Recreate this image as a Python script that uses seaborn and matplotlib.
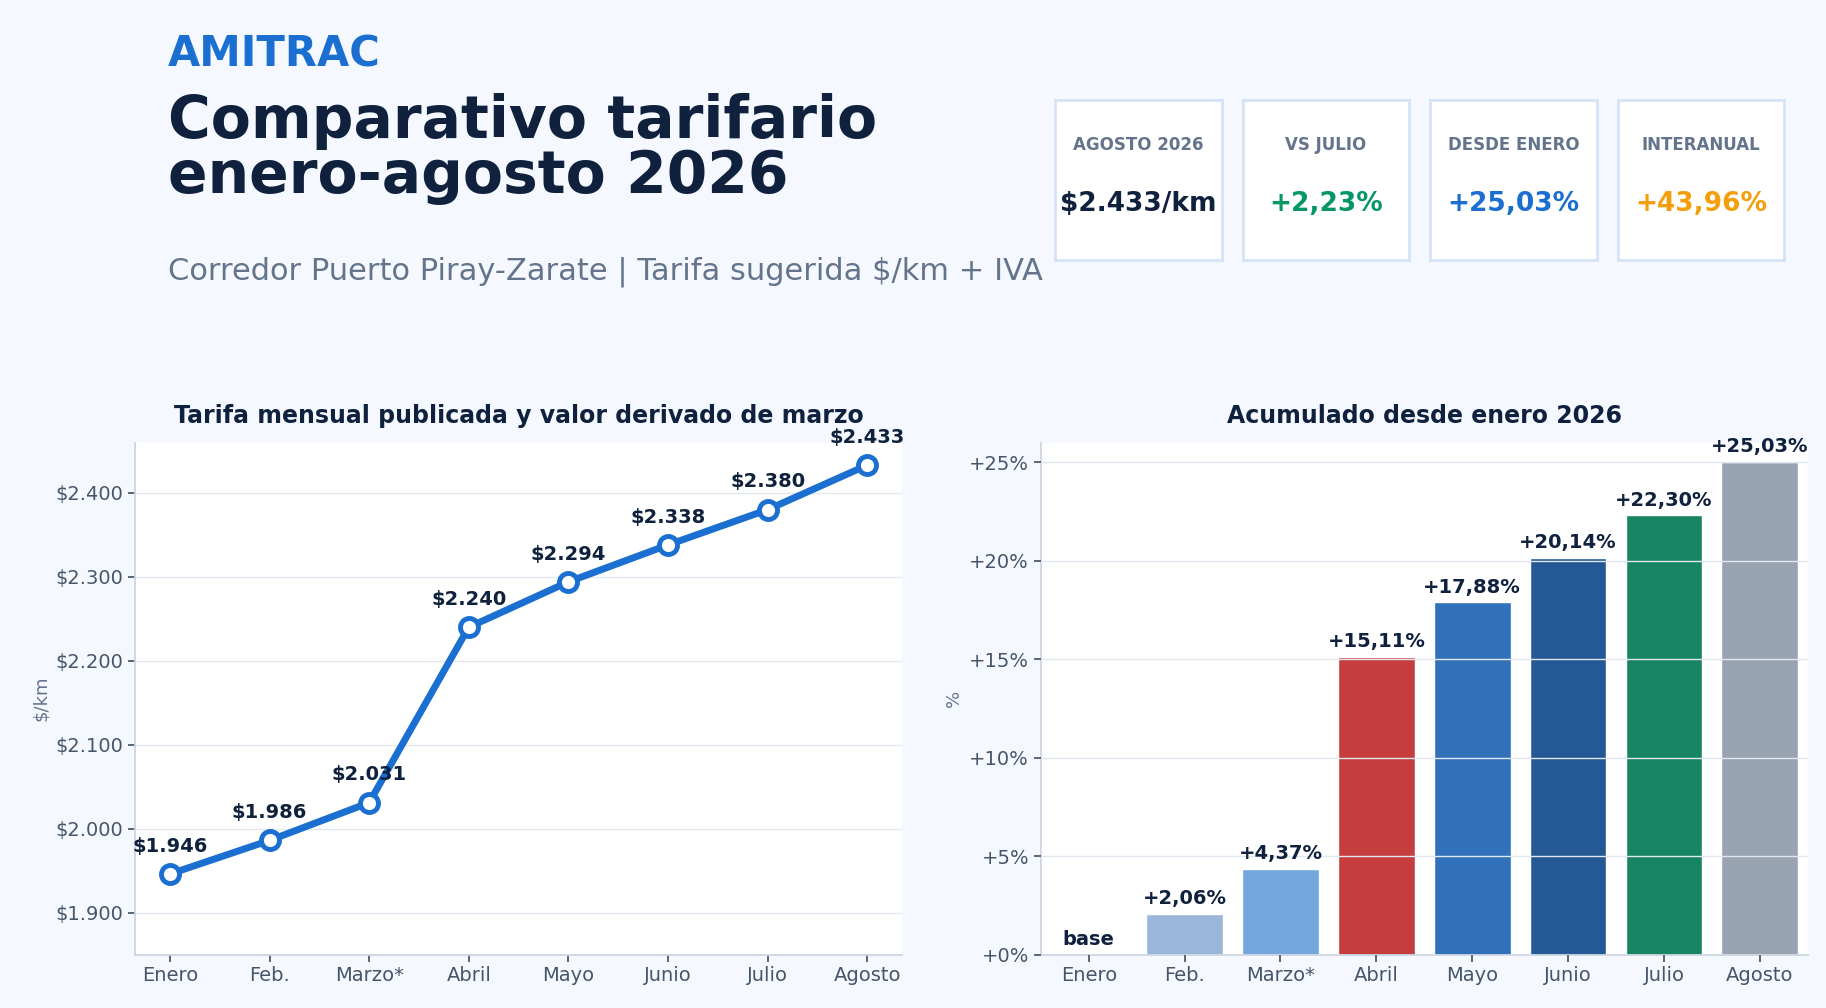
import seaborn as sns
import matplotlib.pyplot as plt
import pandas as pd
import numpy as np


meses = ["Enero", "Feb.", "Marzo*", "Abril", "Mayo", "Junio", "Julio", "Agosto"]
tarifas = [1946, 1986, 2031, 2240, 2294, 2338, 2380, 2433]
acumulado = [0.0, 2.06, 4.37, 15.11, 17.88, 20.14, 22.30, 25.03]
colores = ["#dbe7f7", "#8fb5e6", "#63a7ee", "#dc2626", "#1a6fd1", "#1158a8", "#059669", "#94a3b8"]

df = pd.DataFrame({"mes": meses, "tarifa": tarifas, "acum": acumulado})

sns.set_theme(style="whitegrid")
plt.rcParams['font.family'] = ['DejaVu Sans']
plt.rcParams['figure.facecolor'] = '#f5f9ff'

fig = plt.figure(figsize=(18.26, 10.08), dpi=100)

# encabezado
fig.text(0.092, 0.946, "AMITRAC", fontsize=30, fontweight="bold", color="#1a6fd1", va="center")
fig.text(0.092, 0.852, "Comparativo tarifario\nenero-agosto 2026", fontsize=42, fontweight="bold",
         color="#0f213d", va="center", linespacing=0.95)
fig.text(0.092, 0.73, "Corredor Puerto Piray-Zarate | Tarifa sugerida $/km + IVA", fontsize=22,
         color="#64748b", va="center")

# tarjetas
tarjetas = [("AGOSTO 2026", "$2.433/km", "#0f213d"), ("VS JULIO", "+2,23%", "#059669"),
            ("DESDE ENERO", "+25,03%", "#1a6fd1"), ("INTERANUAL", "+43,96%", "#f59e0b")]
for i, (tit, val, col) in enumerate(tarjetas):
    x0 = 0.578 + i * 0.1027
    ax_c = fig.add_axes([x0, 0.742, 0.091, 0.159])
    ax_c.set_xticks([]); ax_c.set_yticks([])
    ax_c.set_facecolor("white")
    for s in ax_c.spines.values():
        s.set_color("#d4e3f5"); s.set_linewidth(2)
    ax_c.text(0.5, 0.72, tit, ha="center", va="center", fontsize=12, fontweight="bold", color="#64748b",
              transform=ax_c.transAxes)
    ax_c.text(0.5, 0.35, val, ha="center", va="center", fontsize=19, fontweight="bold", color=col,
              transform=ax_c.transAxes)

# tarifa mensual
ax1 = fig.add_axes([0.074, 0.053, 0.42, 0.508])
ax1.set_facecolor("white")
sns.lineplot(data=df, x="mes", y="tarifa", sort=False, ax=ax1, color="#1a6fd1", linewidth=5,
             marker="o", markersize=13, markerfacecolor="white", markeredgecolor="#1a6fd1", markeredgewidth=3.5)
for i, v in enumerate(tarifas):
    ax1.annotate("$" + f"{v:,}".replace(",", "."), (i, v), xytext=(0, 16), textcoords="offset points",
                 ha="center", fontsize=14, fontweight="bold", color="#0f213d")
ax1.set_ylim(1850, 2460)
ax1.set_yticks([1900, 2000, 2100, 2200, 2300, 2400])
ax1.set_yticklabels(["$" + f"{v:,}".replace(",", ".") for v in [1900, 2000, 2100, 2200, 2300, 2400]])
ax1.set_title("Tarifa mensual publicada y valor derivado de marzo", fontsize=17, fontweight="bold",
              color="#0f213d", pad=14)
ax1.set_xlabel("")
ax1.set_ylabel("$/km", fontsize=13, color="#64748b")
ax1.grid(axis="x", visible=False)
ax1.grid(axis="y", color="#e2e8f0")

# acumulado
ax2 = fig.add_axes([0.570, 0.053, 0.42, 0.508])
ax2.set_facecolor("white")
sns.barplot(data=df, x="mes", y="acum", hue="mes", palette=colores, legend=False, ax=ax2, width=0.8)
for i, v in enumerate(acumulado):
    etiqueta = "base" if v == 0 else "+" + f"{v:.2f}".replace(".", ",") + "%"
    ax2.annotate(etiqueta, (i, v), xytext=(0, 7), textcoords="offset points", ha="center",
                 fontsize=14, fontweight="bold", color="#0f213d")
ax2.set_ylim(0, 26)
ax2.set_yticks([0, 5, 10, 15, 20, 25])
ax2.set_yticklabels([f"+{t}%" for t in [0, 5, 10, 15, 20, 25]])
ax2.set_axisbelow(False)
ax2.set_title("Acumulado desde enero 2026", fontsize=17, fontweight="bold", color="#0f213d", pad=14)
ax2.set_xlabel("")
ax2.set_ylabel("%", fontsize=13, color="#64748b")
ax2.grid(axis="x", visible=False)
ax2.grid(axis="y", color="#e2e8f0")

for ax in (ax1, ax2):
    ax.tick_params(labelsize=14, colors="#475569", length=5, left=True, bottom=True)
    for s in ["top", "right"]:
        ax.spines[s].set_visible(False)
    for s in ["left", "bottom"]:
        ax.spines[s].set_color("#cbd5e1")

fig.savefig("out.png", dpi=100, facecolor=fig.get_facecolor())
